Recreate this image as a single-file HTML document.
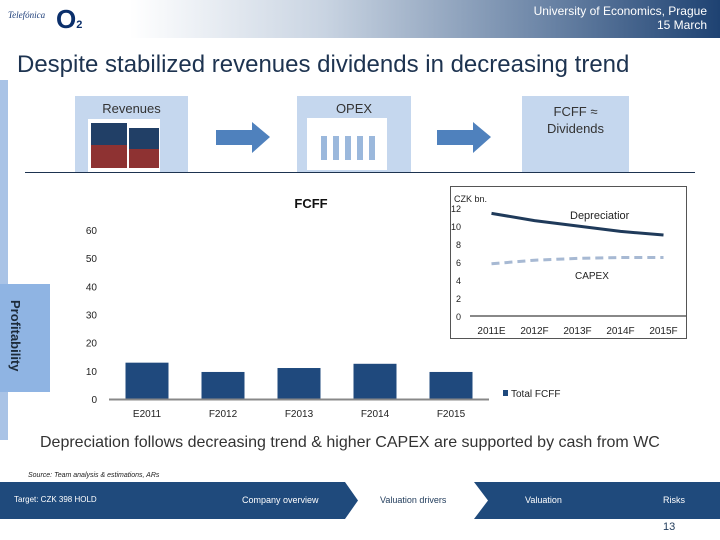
<!DOCTYPE html>
<html><head><meta charset="utf-8">
<style>
body{margin:0;width:720px;height:540px;overflow:hidden;background:#fff;font-family:"Liberation Sans",sans-serif;position:relative}
.abs{position:absolute}
</style></head><body>
<div class="abs" style="left:0;top:0;width:720px;height:38px;background:linear-gradient(90deg,#fff 0%,#fff 18%,#c9d4e2 45%,#6e87a8 75%,#1e4272 100%)"></div>
<div class="abs" style="left:8px;top:10px;font-family:'Liberation Serif',serif;font-style:italic;font-size:9px;color:#1c3d78">Telefónica</div>
<div class="abs" style="left:56px;top:4px;font-size:26px;color:#0b2f6b;font-weight:bold">O<span style="font-size:11px">2</span></div>
<div class="abs" style="right:13px;top:4px;text-align:right;font-size:12px;line-height:14px;color:#fff">University of Economics, Prague<br>15 March</div>
<div class="abs" style="left:17px;top:51px;font-size:24px;color:#1d3350">Despite stabilized revenues dividends in decreasing trend</div>
<div class="abs" style="left:0;top:80px;width:8px;height:360px;background:#a9c3e6"></div>
<div class="abs" style="left:0;top:284px;width:50px;height:108px;background:#8fb4e3"></div>
<div class="abs" style="left:8px;top:300px;writing-mode:vertical-rl;font-size:13px;font-weight:bold;color:#1d2b3a">Profitability</div>

<div class="abs" style="left:75px;top:96px;width:113px;height:76px;background:#c5d7ee;text-align:center;font-size:13px;color:#333;padding-top:5px;box-sizing:border-box">Revenues</div>
<div class="abs" style="left:88px;top:119px;width:72px;height:53px;background:#fff">
 <div class="abs" style="left:3px;top:4px;width:36px;height:22px;background:#213f66"></div>
 <div class="abs" style="left:3px;top:26px;width:36px;height:23px;background:#8e3232"></div>
 <div class="abs" style="left:41px;top:9px;width:30px;height:21px;background:#213f66"></div>
 <div class="abs" style="left:41px;top:30px;width:30px;height:19px;background:#8e3232"></div>
</div>
<div class="abs" style="left:297px;top:96px;width:114px;height:76px;background:#c5d7ee;text-align:center;font-size:13px;color:#333;padding-top:5px;box-sizing:border-box">OPEX</div>
<div class="abs" style="left:307px;top:118px;width:80px;height:52px;background:#fff">
 <div class="abs" style="left:14px;top:18px;width:6px;height:24px;background:#9bb8dc"></div>
 <div class="abs" style="left:26px;top:18px;width:6px;height:24px;background:#9bb8dc"></div>
 <div class="abs" style="left:38px;top:18px;width:6px;height:24px;background:#9bb8dc"></div>
 <div class="abs" style="left:50px;top:18px;width:6px;height:24px;background:#9bb8dc"></div>
 <div class="abs" style="left:62px;top:18px;width:6px;height:24px;background:#9bb8dc"></div>
</div>
<div class="abs" style="left:522px;top:96px;width:107px;height:76px;background:#c5d7ee;text-align:center;font-size:13px;line-height:17px;color:#333;padding-top:7px;box-sizing:border-box">FCFF ≈<br>Dividends</div>
<svg class="abs" style="left:0;top:0" width="720" height="180">
 <polygon points="216,130 252,130 252,122 270,137 252,153 252,145 216,145" fill="#4f81bd"/>
 <polygon points="437,130 473,130 473,122 491,137 473,153 473,145 437,145" fill="#4f81bd"/>
 <line x1="25" y1="172.5" x2="695" y2="172.5" stroke="#1d3350" stroke-width="1"/>
</svg>

<svg class="abs" id="fcff" style="left:0;top:0" width="720" height="540"></svg>

<div class="abs" style="left:40px;top:434px;font-size:16px;color:#333">Depreciation follows decreasing trend &amp; higher CAPEX are supported by cash from WC</div>
<div class="abs" style="left:28px;top:472px;font-size:7px;font-style:italic;color:#222">Source: Team analysis &amp; estimations, ARs</div>
<div class="abs" style="left:0;top:482px;width:720px;height:37px;background:#1f4a7c"></div>
<svg class="abs" style="left:0;top:482px" width="720" height="37"><polygon points="345,0 474,0 488,18.5 474,37 345,37 358,18.5" fill="#fff"/></svg>
<div class="abs" style="left:14px;top:495px;font-size:8px;color:#fff">Target: CZK 398 HOLD</div>
<div class="abs" style="left:242px;top:495px;font-size:9px;color:#fff">Company overview</div>
<div class="abs" style="left:380px;top:495px;font-size:9px;color:#1f3a5a">Valuation drivers</div>
<div class="abs" style="left:525px;top:495px;font-size:9px;color:#fff">Valuation</div>
<div class="abs" style="left:663px;top:495px;font-size:9px;color:#fff">Risks</div>
<div class="abs" style="left:663px;top:521px;font-size:11px;color:#1f3a5a">13</div>

<script>
const cats=["E2011","F2012","F2013","F2014","F2015"];
const fcff=[12.9,9.6,11.0,12.5,9.6];
const yTicks=[0,10,20,30,40,50,60];
const insetCats=["2011E","2012F","2013F","2014F","2015F"];
const depreciation=[11.4,10.6,10.0,9.4,9.0];
const capex=[5.8,6.2,6.4,6.5,6.5];
const insetTicks=[0,2,4,6,8,10,12];

const NS="http://www.w3.org/2000/svg";
const svg=document.getElementById('fcff');
function mk(tag,attrs,text){const e=document.createElementNS(NS,tag);for(const k in attrs)e.setAttribute(k,attrs[k]);if(text!==undefined)e.textContent=text;svg.appendChild(e);return e;}
// main chart
const x0=109,bw=76,y0=399,ppu=169/60;
const X=i=>x0+bw*(i+0.5), Y=v=>y0-v*ppu;
let t=mk('text',{x:311,y:208,'font-size':13,'font-weight':'bold','text-anchor':'middle',fill:'#111'},'FCFF');


yTicks.forEach(v=>{const e=mk('text',{x:97,y:Y(v)+4,'font-size':10,'text-anchor':'end',fill:'#222'},v);

});
fcff.forEach((v,i)=>{const r=mk('rect',{x:X(i)-21.5,y:Y(v),width:43,height:v*ppu,fill:'#1f497d'});


const l=mk('text',{x:X(i),y:417,'font-size':10,'text-anchor':'middle',fill:'#222'},cats[i]);

});
let ax=mk('line',{x1:x0,y1:y0+0.5,x2:x0+bw*5,y2:y0+0.5,stroke:'#888','stroke-width':2});


let lg=mk('rect',{x:503,y:390,width:5,height:6,fill:'#1f497d'});


let lt=mk('text',{x:511,y:397,'font-size':10,fill:'#222'},'Total FCFF');


// inset
const ix0=470,ibw=43,iy0=316,ippu=9;
const IX=i=>ix0+ibw*(i+0.5), IY=v=>iy0-v*ippu;
let ib=mk('rect',{x:450.5,y:186.5,width:236,height:152,fill:'none',stroke:'#555','stroke-width':1});


let iu=mk('text',{x:454,y:202,'font-size':9,fill:'#222'},'CZK bn.');


insetTicks.forEach(v=>{const e=mk('text',{x:461,y:IY(v)+4,'font-size':9,'text-anchor':'end',fill:'#222'},v);

});
let iax=mk('line',{x1:470,y1:iy0,x2:686,y2:iy0,stroke:'#888','stroke-width':2});


insetCats.forEach((c,i)=>{const e=mk('text',{x:IX(i),y:334,'font-size':10,'text-anchor':'middle',fill:'#222'},c);

});
let dp=mk('path',{d:depreciation.map((v,i)=>(i?'L':'M')+IX(i)+','+IY(v)).join(''),fill:'none',stroke:'#1f3a5a','stroke-width':3});


let cp=mk('path',{d:capex.map((v,i)=>(i?'L':'M')+IX(i)+','+IY(v)).join(''),fill:'none',stroke:'#a7b9d3','stroke-width':3,'stroke-dasharray':'8,5'});


let dl=mk('text',{x:570,y:219,'font-size':11,fill:'#222'},'Depreciatior');


let cl=mk('text',{x:575,y:279,'font-size':10,fill:'#222'},'CAPEX');


</script>
</body></html>
